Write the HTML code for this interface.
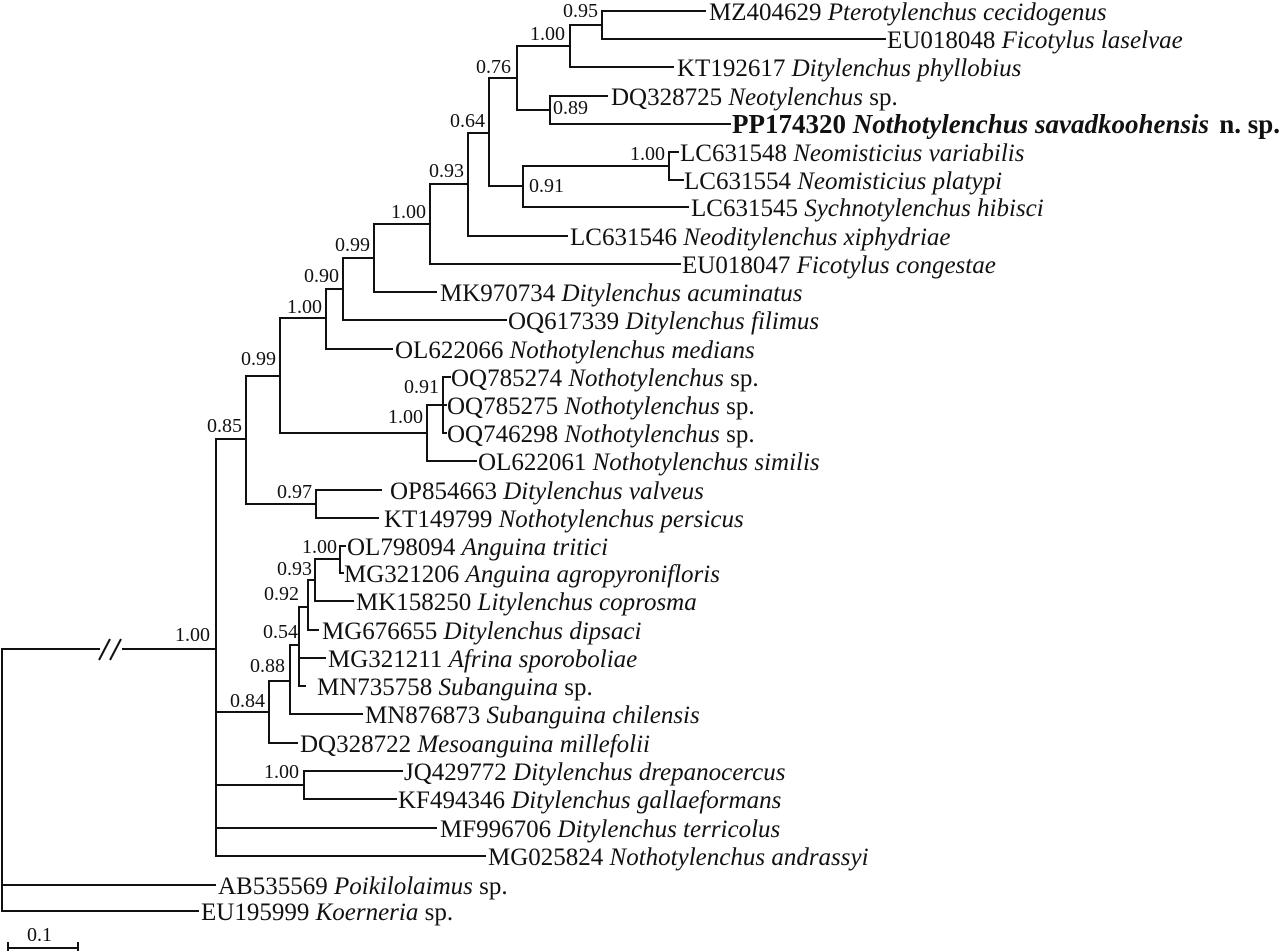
<!DOCTYPE html>
<html><head><meta charset="utf-8"><style>
html,body{margin:0;padding:0;background:#fff;}
svg{display:block;}
text{font-family:"Liberation Serif",serif;fill:#111;}
.l{font-size:25px;}
.s{font-size:20px;}
</style></head><body>
<svg width="1280" height="951" viewBox="0 0 1280 951" xmlns="http://www.w3.org/2000/svg">
<g stroke="#111" stroke-width="2" fill="none" stroke-linecap="square">
<path d="M602 11V39M602 11H705M602 39H885"/>
<path d="M570 25V67M570 25H602M570 67H673"/>
<path d="M517 46V110M517 46H570"/>
<path d="M550 96V124M550 96H607M550 124H730M517 110H550"/>
<path d="M489 78V186M489 78H517"/>
<path d="M669 152V180M669 152H678M669 180H683"/>
<path d="M523 166V207M523 166H669M523 207H688M489 186H523"/>
<path d="M468 133V236M468 133H489M468 236H567"/>
<path d="M430 184V264M430 184H468M430 264H680"/>
<path d="M374 224V292M374 224H430M374 292H436"/>
<path d="M343 258V320M343 258H374M343 320H506"/>
<path d="M326 289V349M326 289H343M326 349H392"/>
<path d="M443 377V433M443 377H450M443 405H446M443 433H446"/>
<path d="M427 405V461M427 405H443M427 461H476"/>
<path d="M280 318V433M280 318H326M280 433H427"/>
<path d="M316 490V518M316 490H381M316 518H378"/>
<path d="M246 376V504M246 376H280M246 504H316"/>
<path d="M340 546V573M340 546H345M340 573H343"/>
<path d="M315 559V601M315 559H340M315 601H353"/>
<path d="M308 580V630M308 580H315M308 630H318"/>
<path d="M299 607V686M299 607H308M299 658H325M299 686H305"/>
<path d="M290 645V714M290 645H299M290 714H362"/>
<path d="M269 681V743M269 681H290M269 743H297"/>
<path d="M304 771V799M304 771H402M304 799H396"/>
<path d="M216 439V856M216 439H246M216 712H269M216 785H304M216 828H436M216 856H485"/>
<path d="M2 649V911M2 649H216M2 885H215M2 911H198"/>
<path d="M8 948H78M8 943V951M78 943V951"/>
</g>
<rect x="100" y="640" width="22" height="18" fill="#fff"/>
<path d="M99 660L110 639M110 660L121 639" stroke="#111" stroke-width="2"/>
<g class="s">
<text x="598" y="17" text-anchor="end">0.95</text>
<text x="565" y="40" text-anchor="end">1.00</text>
<text x="511" y="73" text-anchor="end">0.76</text>
<text x="553" y="114">0.89</text>
<text x="485" y="127" text-anchor="end">0.64</text>
<text x="665" y="160" text-anchor="end">1.00</text>
<text x="529" y="192">0.91</text>
<text x="464" y="177" text-anchor="end">0.93</text>
<text x="426" y="218" text-anchor="end">1.00</text>
<text x="370" y="251" text-anchor="end">0.99</text>
<text x="339" y="282" text-anchor="end">0.90</text>
<text x="322" y="313" text-anchor="end">1.00</text>
<text x="276" y="365" text-anchor="end">0.99</text>
<text x="242" y="432" text-anchor="end">0.85</text>
<text x="439" y="393" text-anchor="end">0.91</text>
<text x="423" y="423" text-anchor="end">1.00</text>
<text x="312" y="498" text-anchor="end">0.97</text>
<text x="337" y="553" text-anchor="end">1.00</text>
<text x="312" y="575" text-anchor="end">0.93</text>
<text x="299" y="600" text-anchor="end">0.92</text>
<text x="298" y="638" text-anchor="end">0.54</text>
<text x="285" y="672" text-anchor="end">0.88</text>
<text x="265" y="707" text-anchor="end">0.84</text>
<text x="210" y="641" text-anchor="end">1.00</text>
<text x="299" y="778" text-anchor="end">1.00</text>
<text x="27" y="941">0.1</text>
</g>
<g class="l">
<text x="709" y="20">MZ404629 <tspan font-style="italic">Pterotylenchus cecidogenus</tspan></text>
<text x="887" y="48">EU018048 <tspan font-style="italic">Ficotylus laselvae</tspan></text>
<text x="677" y="76">KT192617 <tspan font-style="italic">Ditylenchus phyllobius</tspan></text>
<text x="611" y="105">DQ328725 <tspan font-style="italic">Neotylenchus</tspan> sp.</text>
<text x="732" y="133" font-weight="bold" font-size="27">PP174320 <tspan font-style="italic">Nothotylenchus savadkoohensis</tspan></text>
<text x="1280" y="133" font-weight="bold" font-size="27" text-anchor="end">n. sp.</text>
<text x="680" y="161">LC631548 <tspan font-style="italic">Neomisticius variabilis</tspan></text>
<text x="684" y="189">LC631554 <tspan font-style="italic">Neomisticius platypi</tspan></text>
<text x="691" y="216">LC631545 <tspan font-style="italic">Sychnotylenchus hibisci</tspan></text>
<text x="570" y="245">LC631546 <tspan font-style="italic">Neoditylenchus xiphydriae</tspan></text>
<text x="682" y="273">EU018047 <tspan font-style="italic">Ficotylus congestae</tspan></text>
<text x="440" y="301">MK970734 <tspan font-style="italic">Ditylenchus acuminatus</tspan></text>
<text x="508" y="329">OQ617339 <tspan font-style="italic">Ditylenchus filimus</tspan></text>
<text x="395" y="358">OL622066 <tspan font-style="italic">Nothotylenchus medians</tspan></text>
<text x="451" y="386">OQ785274 <tspan font-style="italic">Nothotylenchus</tspan> sp.</text>
<text x="447" y="414">OQ785275 <tspan font-style="italic">Nothotylenchus</tspan> sp.</text>
<text x="447" y="442">OQ746298 <tspan font-style="italic">Nothotylenchus</tspan> sp.</text>
<text x="478" y="470">OL622061 <tspan font-style="italic">Nothotylenchus similis</tspan></text>
<text x="390" y="499">OP854663 <tspan font-style="italic">Ditylenchus valveus</tspan></text>
<text x="384" y="527">KT149799 <tspan font-style="italic">Nothotylenchus persicus</tspan></text>
<text x="347" y="555">OL798094 <tspan font-style="italic">Anguina tritici</tspan></text>
<text x="344" y="582">MG321206 <tspan font-style="italic">Anguina agropyronifloris</tspan></text>
<text x="356" y="610">MK158250 <tspan font-style="italic">Litylenchus coprosma</tspan></text>
<text x="322" y="639">MG676655 <tspan font-style="italic">Ditylenchus dipsaci</tspan></text>
<text x="328" y="667">MG321211 <tspan font-style="italic">Afrina sporoboliae</tspan></text>
<text x="317" y="695">MN735758 <tspan font-style="italic">Subanguina</tspan> sp.</text>
<text x="365" y="723">MN876873 <tspan font-style="italic">Subanguina chilensis</tspan></text>
<text x="300" y="752">DQ328722 <tspan font-style="italic">Mesoanguina millefolii</tspan></text>
<text x="404" y="780">JQ429772 <tspan font-style="italic">Ditylenchus drepanocercus</tspan></text>
<text x="398" y="808">KF494346 <tspan font-style="italic">Ditylenchus gallaeformans</tspan></text>
<text x="440" y="837">MF996706 <tspan font-style="italic">Ditylenchus terricolus</tspan></text>
<text x="488" y="865">MG025824 <tspan font-style="italic">Nothotylenchus andrassyi</tspan></text>
<text x="218" y="894">AB535569 <tspan font-style="italic">Poikilolaimus</tspan> sp.</text>
<text x="201" y="920">EU195999 <tspan font-style="italic">Koerneria</tspan> sp.</text>
</g>
</svg>
</body></html>
